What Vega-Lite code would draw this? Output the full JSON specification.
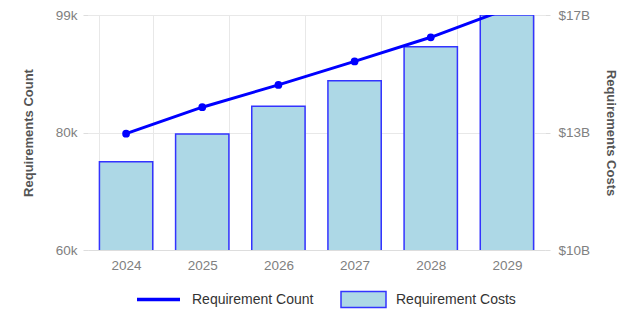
{
  "$schema": "https://vega.github.io/schema/vega-lite/v6.json",
  "width": 457,
  "height": 235,
  "autosize": {"type": "none"},
  "padding": {"left": 88, "top": 15, "right": 86, "bottom": 60},
  "config": {
    "font": "Liberation Sans",
    "view": {"stroke": null},
    "axis": {"labelColor": "#808080", "labelFontSize": 13.5, "titleColor": "#555", "titleFontSize": 13, "titleFontWeight": "bold", "gridColor": "#e8e8e8", "domainColor": "#ddd", "tickColor": "#ddd"}
  },
  "data": {"values": [
    {"year": "2024", "count": 79300, "costs": 12480000000},
    {"year": "2025", "count": 83700, "costs": 13260000000},
    {"year": "2026", "count": 87400, "costs": 14040000000},
    {"year": "2027", "count": 91300, "costs": 14750000000},
    {"year": "2028", "count": 95300, "costs": 15710000000},
    {"year": "2029", "count": 100000, "costs": 16600000000}
  ]},
  "encoding": {
    "x": {"field": "year", "type": "nominal", "title": null,
      "scale": {"paddingInner": 0.3, "paddingOuter": 0.15},
      "axis": {"labelAngle": 0, "labelPadding": 8, "tickBand": "extent", "grid": true, "ticks": false, "domainColor": "#ddd"}}
  },
  "layer": [
    {
      "mark": {"type": "bar", "stroke": "#3333ff", "strokeWidth": 1.5, "clip": true},
      "encoding": {
        "y": {"field": "costs", "type": "quantitative", "title": "Requirements Costs",
          "scale": {"domain": [10000000000, 16600000000], "zero": false, "nice": false},
          "axis": {"orient": "right", "values": [10000000000, 13300000000, 16600000000], "labelExpr": "'$' + format(datum.value/1e9, '.0f') + 'B'", "grid": false, "labelPadding": 8, "titlePadding": 14, "titleAngle": 90, "domain": false}},
        "fill": {"datum": "Requirement Costs", "type": "nominal",
          "scale": {"range": ["#add8e6"]},
          "legend": {"title": null, "orient": "none", "legendX": 252, "legendY": 261, "symbolType": "M-1,-0.36H1V0.36H-1Z", "symbolSize": 2025, "symbolStrokeColor": "#3333ff", "symbolStrokeWidth": 1.5, "labelFontSize": 14, "labelColor": "#333", "labelOffset": 9}}
      }
    },
    {
      "mark": {"type": "line", "strokeWidth": 3, "clip": true, "point": {"filled": true, "size": 60, "clip": true}},
      "encoding": {
        "y": {"field": "count", "type": "quantitative", "title": "Requirements Count",
          "scale": {"domain": [60000, 99000], "zero": false, "nice": false},
          "axis": {"values": [60000, 79500, 99000], "format": ".2~s", "grid": true, "labelPadding": 6, "titlePadding": 20, "domain": false}},
        "color": {"datum": "Requirement Count", "type": "nominal",
          "scale": {"range": ["#0000ff"]},
          "legend": {"title": null, "orient": "none", "legendX": 47, "legendY": 261, "symbolType": "stroke", "symbolSize": 1849, "symbolStrokeWidth": 3.5, "labelFontSize": 14, "labelColor": "#333", "labelOffset": 10}}
      }
    }
  ],
  "resolve": {"scale": {"y": "independent"}}
}
